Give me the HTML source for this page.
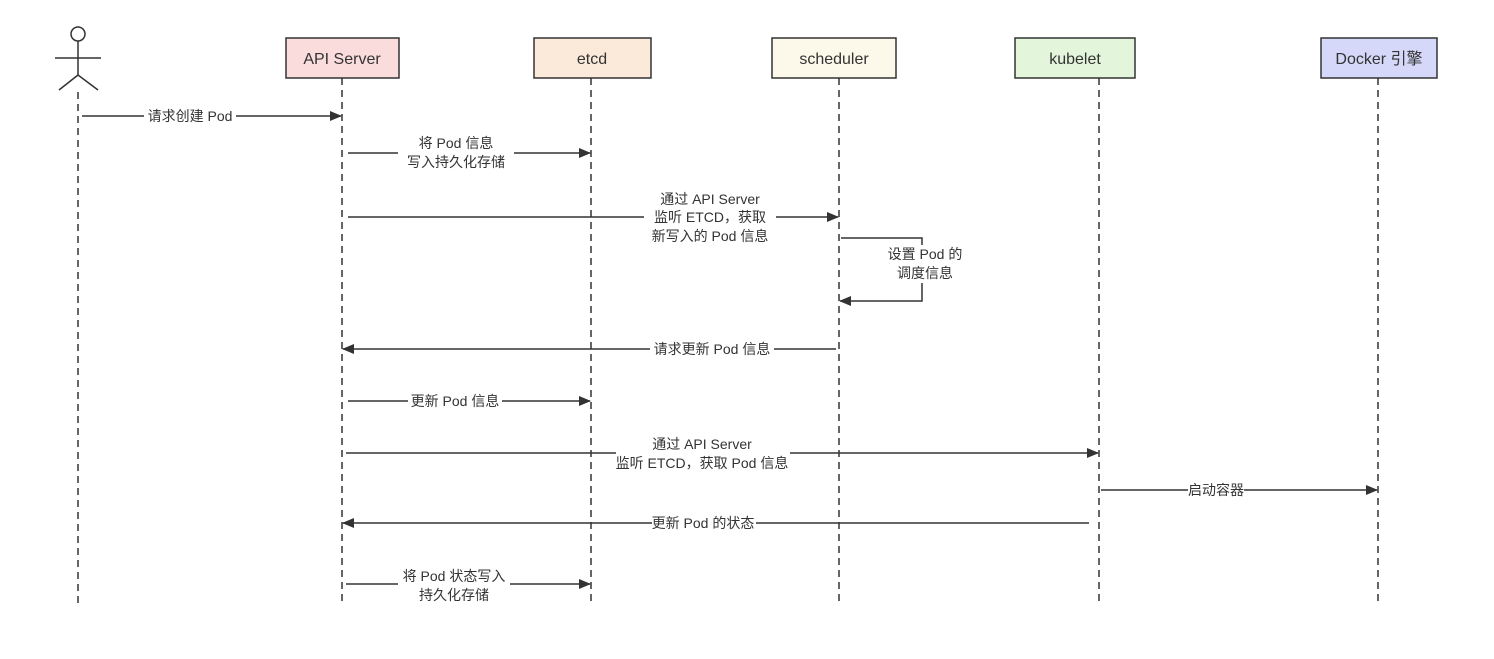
<!DOCTYPE html>
<html><head><meta charset="utf-8"><style>
body{margin:0;background:#fff;}
svg text{font-family:"Liberation Sans","Noto Sans CJK SC",sans-serif;font-size:14px;fill:#333;}
svg .b{font-size:16px;}
</style></head><body>
<svg width="1494" height="654" viewBox="0 0 1494 654" xmlns="http://www.w3.org/2000/svg">
<defs><marker id="a" markerWidth="12" markerHeight="10" refX="11" refY="5" orient="auto" markerUnits="userSpaceOnUse"><path d="M0,0 L12,5 L0,10 Z" fill="#333"/></marker></defs>
<g stroke="#333" stroke-width="1.5" fill="none">
<circle cx="78" cy="34" r="7"/>
<line x1="78" y1="41" x2="78" y2="75"/>
<line x1="55" y1="58" x2="101" y2="58"/>
<path d="M78 75 L59 90"/><path d="M78 75 L98 90"/>
</g>
<g stroke="#333" stroke-width="1.5" stroke-dasharray="7,5">
<line x1="78" y1="92" x2="78" y2="604"/>
<line x1="342" y1="78" x2="342" y2="604"/>
<line x1="591" y1="78" x2="591" y2="604"/>
<line x1="839" y1="78" x2="839" y2="604"/>
<line x1="1099" y1="78" x2="1099" y2="604"/>
<line x1="1378" y1="78" x2="1378" y2="604"/>
</g>
<g stroke="#333" stroke-width="1.5">
<rect x="286" y="38" width="113" height="40" fill="#fadcdc"/>
<rect x="534" y="38" width="117" height="40" fill="#fbe9d9"/>
<rect x="772" y="38" width="124" height="40" fill="#fcf9ea"/>
<rect x="1015" y="38" width="120" height="40" fill="#e3f5da"/>
<rect x="1321" y="38" width="116" height="40" fill="#d5d8f8"/>
</g>
<g text-anchor="middle" class="b">
<text class="b" x="342" y="64">API Server</text>
<text class="b" x="592" y="64">etcd</text>
<text class="b" x="834" y="64">scheduler</text>
<text class="b" x="1075" y="64">kubelet</text>
<text class="b" x="1379" y="64">Docker 引擎</text>
</g>
<g stroke="#333" stroke-width="1.5" fill="none" marker-end="url(#a)">
<line x1="82" y1="116" x2="341" y2="116"/>
<line x1="348" y1="153" x2="590" y2="153"/>
<line x1="348" y1="217" x2="838" y2="217"/>
<path d="M841 238 H922 V301 H840"/>
<line x1="836" y1="349" x2="343" y2="349"/>
<line x1="348" y1="401" x2="590" y2="401"/>
<line x1="346" y1="453" x2="1098" y2="453"/>
<line x1="1101" y1="490" x2="1377" y2="490"/>
<line x1="1089" y1="523" x2="343" y2="523"/>
<line x1="346" y1="584" x2="590" y2="584"/>
</g>
<g fill="#fff">
<rect x="144" y="106" width="92" height="20"/>
<rect x="398" y="134" width="116" height="40"/>
<rect x="644" y="190" width="132" height="56"/>
<rect x="872" y="245" width="106" height="38"/>
<rect x="650" y="339" width="124" height="20"/>
<rect x="408" y="391" width="94" height="20"/>
<rect x="616" y="434" width="174" height="38"/>
<rect x="1188" y="480" width="56" height="20"/>
<rect x="652" y="513" width="104" height="20"/>
<rect x="398" y="566" width="112" height="38"/>
</g>
<g text-anchor="middle">
<text x="190" y="121">请求创建 Pod</text>
<text x="456" y="148">将 Pod 信息</text><text x="456" y="167">写入持久化存储</text>
<text x="710" y="204">通过 API Server</text><text x="710" y="222">监听 ETCD，获取</text><text x="710" y="241">新写入的 Pod 信息</text>
<text x="925" y="259">设置 Pod 的</text><text x="925" y="278">调度信息</text>
<text x="712" y="354">请求更新 Pod 信息</text>
<text x="455" y="406">更新 Pod 信息</text>
<text x="702" y="449">通过 API Server</text><text x="702" y="468">监听 ETCD，获取 Pod 信息</text>
<text x="1216" y="495">启动容器</text>
<text x="703" y="528">更新 Pod 的状态</text>
<text x="454" y="581">将 Pod 状态写入</text><text x="454" y="600">持久化存储</text>
</g>
</svg>
</body></html>
